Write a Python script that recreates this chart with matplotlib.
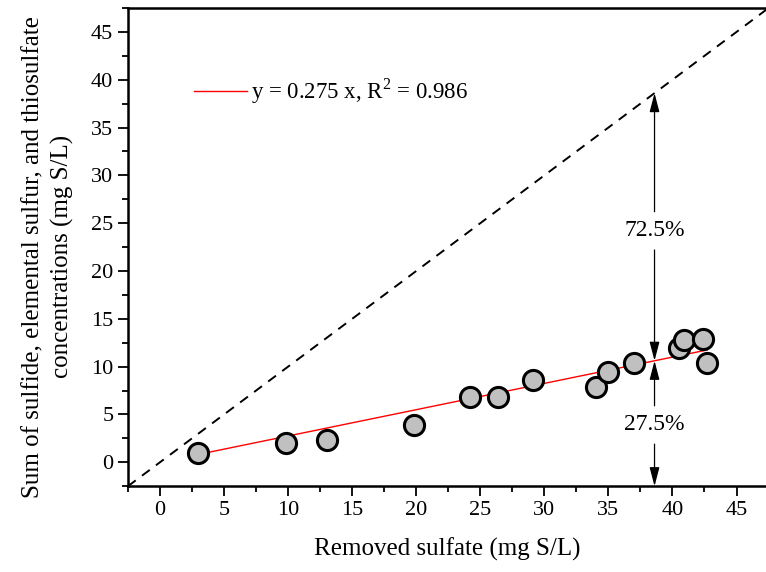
import numpy as np
import matplotlib.pyplot as plt
from matplotlib.ticker import MultipleLocator

plt.rcParams['font.family'] = ['Liberation Serif', 'DejaVu Serif']
plt.rcParams['mathtext.fontset'] = 'custom'
plt.rcParams['mathtext.rm'] = 'Liberation Serif'

# measured points: removed sulfate vs. sum of reduced sulfur species
removed_sulfate = [3.0, 9.8, 13.0, 19.8, 24.2, 26.4, 29.1, 34.0, 35.0, 37.0, 40.5, 40.9, 42.4, 42.7]
reduced_sum = [1.0, 2.0, 2.3, 3.9, 6.8, 6.8, 8.6, 7.9, 9.4, 10.4, 11.9, 12.8, 12.9, 10.4]

# linear fit through origin
slope = 0.275
r2 = 0.986
fit_range = [3.0, 42.7]

# 1:1 line and the arrow annotation
one_to_one = [-2.5, 47.5]
arrow_x = 38.6
pct_upper = '72.5%'
pct_lower = '27.5%'
pct_upper_y = 24.2
pct_lower_y = 3.9
gap = 2.0  # half gap around the percent labels (data units)

fig = plt.figure(figsize=(7.66, 5.72), dpi=100)
ax = fig.add_axes([0.167, 0.150, 0.833, 0.836])

ax.plot(one_to_one, one_to_one, 'k--', lw=1.4, dashes=(5, 4))

fx = np.array(fit_range)
ax.plot(fx, slope * fx, color='red', lw=1.0,
        label='y = %.3f x, R$^2$ = %.3f' % (slope, r2), zorder=3)

ax.plot(removed_sulfate, reduced_sum, 'o', ms=14.5, mfc='#c0c0c0', mec='black',
        mew=2.2, zorder=4)

# double arrows with percentages
ap = dict(arrowstyle='-|>,head_length=1.15,head_width=0.3', color='black',
          lw=0.9, shrinkA=0, shrinkB=0)
y_fit = slope * arrow_x
for txt, ty, top, bottom in [(pct_upper, pct_upper_y, arrow_x, y_fit),
                             (pct_lower, pct_lower_y, y_fit, -2.5)]:
    ax.text(arrow_x, ty, txt, ha='center', va='center', fontsize=17)
    ax.annotate('', xy=(arrow_x, top), xytext=(arrow_x, ty + gap), arrowprops=ap)
    ax.annotate('', xy=(arrow_x, bottom), xytext=(arrow_x, ty - gap), arrowprops=ap)

ax.set_xlim(-2.5, 47.3)
ax.set_ylim(-2.5, 47.5)
ax.xaxis.set_minor_locator(MultipleLocator(2.5))
ax.yaxis.set_minor_locator(MultipleLocator(2.5))
ax.set_xticks(np.arange(0, 46, 5))
ax.set_yticks(np.arange(0, 46, 5))
ax.tick_params(which='major', direction='out', length=7, width=1.3, labelsize=16)
ax.tick_params(which='minor', direction='out', length=4, width=1.3)
for side in ['left', 'bottom', 'top']:
    ax.spines[side].set_linewidth(1.8)
ax.spines['right'].set_visible(False)

ax.set_xlabel('Removed sulfate (mg S/L)', fontsize=18, labelpad=13)
ax.set_ylabel('Sum of sulfide, elemental sulfur, and thiosulfate\nconcentrations (mg S/L)',
              fontsize=18, linespacing=1.35)
ax.yaxis.set_label_coords(-0.085, 0.48)

ax.legend(loc='upper left', bbox_to_anchor=(0.072, 0.9), frameon=False,
          fontsize=16.5, handlelength=2.3, handletextpad=0.15)

fig.savefig('out.png', dpi=100)
